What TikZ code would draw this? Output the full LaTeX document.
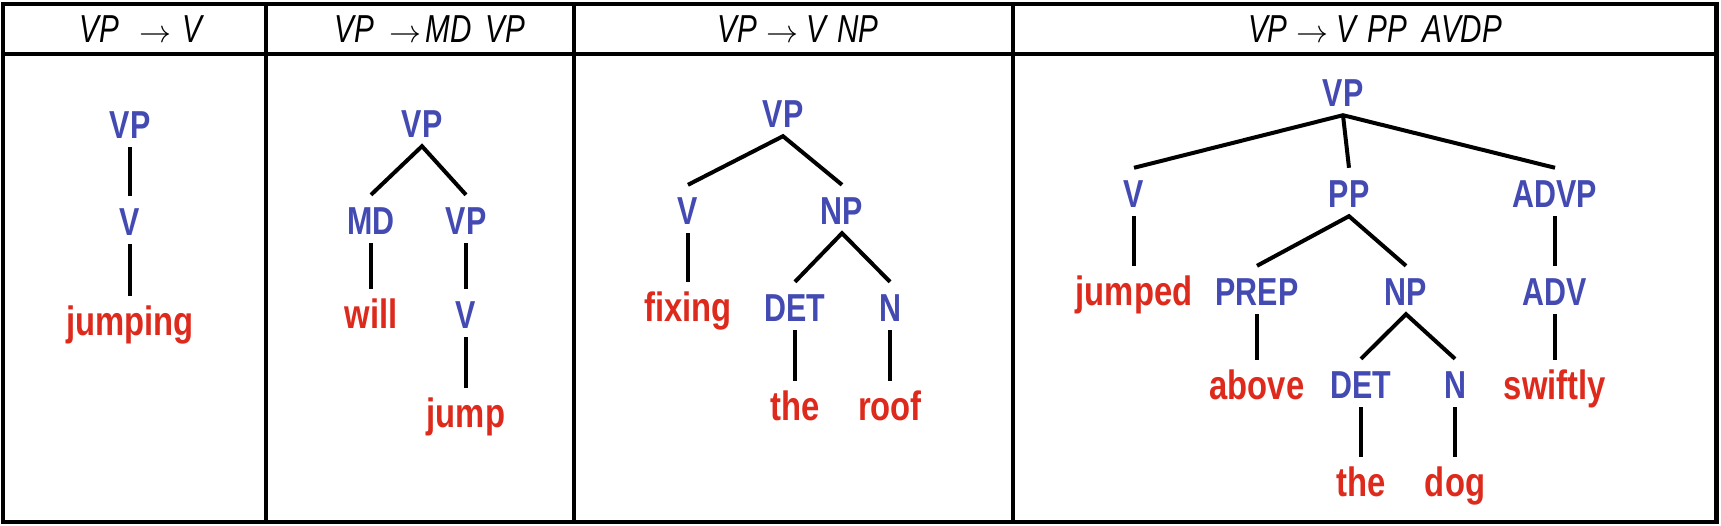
\documentclass[tikz,border=0pt]{standalone}
\usepackage{fontspec}
\setmainfont{Liberation Sans}
\newfontfamily\capsf[FakeStretch=0.78]{Liberation Sans}
\newfontfamily\wordf[FakeStretch=0.80]{Liberation Sans}
\newfontfamily\hdrf[FakeStretch=0.76]{Liberation Sans}
\definecolor{tblue}{RGB}{67,74,178}
\definecolor{tred}{RGB}{221,42,28}
\newcommand\harr{\scalebox{3.2}{\fontsize{10}{12}\selectfont$\rightarrow$}}
\tikzset{
  lab/.style={anchor=base, inner sep=0pt, text height=39pt, text depth=9pt},
  cat/.style={lab, text=tblue, font=\capsf\bfseries\fontsize{39}{40}\selectfont},
  word/.style={lab, text=tred, font=\wordf\bfseries\fontsize{41}{42}\selectfont},
  hdr/.style={anchor=base, inner sep=0pt, font=\hdrf\itshape\fontsize{39}{40}\selectfont},
  edge/.style={line width=4pt, black, line join=miter},
  frameline/.style={line width=4.2pt, black},
}
\begin{document}
\begin{tikzpicture}[x=1pt, y=-1pt]
\useasboundingbox (0,0) rectangle (1721,525);
% table frame
\draw[frameline] (3,4) rectangle (1716.5,522);
\draw[frameline] (3,54) -- (1716.5,54);
\draw[frameline] (266,4) -- (266,522);
\draw[frameline] (574,4) -- (574,522);
\draw[frameline] (1013,4) -- (1013,522);
% headers
\node[hdr] (h1) at (141,42) {VP\hspace{21pt}\harr\hspace{11pt}V};
\node[hdr] (h2) at (430,42) {VP\hspace{15pt}\harr\hspace{4pt}MD\hspace{14pt}VP};
\node[hdr] (h3) at (798,42) {VP\hspace{9pt}\harr\hspace{8pt}V\hspace{11pt}NP};
\node[hdr] (h4) at (1375,42) {VP\hspace{9pt}\harr\hspace{8pt}V\hspace{11pt}PP\hspace{16pt}AVDP};
% column 1
\node[cat] (a1) at (130,138) {VP};
\node[cat] (a2) at (130,235) {V};
\node[word] (a3) at (130,335) {jumping};
\draw[edge] (a1.south) -- (a2.north);
\draw[edge] (a2.south) -- (a3.north);
% column 2
\node[cat] (b1) at (422,137) {VP};
\node[cat] (b2) at (371,234) {MD};
\node[cat] (b3) at (466,234) {VP};
\node[word] (b4) at (371,328) {will};
\node[cat] (b5) at (466,328) {V};
\node[word] (b6) at (466,427) {jump};
\draw[edge] (b2.north) -- (b1.south) -- (b3.north);
\draw[edge] (b2.south) -- (b4.north);
\draw[edge] (b3.south) -- (b5.north);
\draw[edge] (b5.south) -- (b6.north);
% column 3
\node[cat] (c1) at (783,127) {VP};
\node[cat] (c2) at (688,224) {V};
\node[cat] (c3) at (842,224) {NP};
\node[word] (c4) at (688,321) {fixing};
\node[cat] (c5) at (795,321) {DET};
\node[cat] (c6) at (890,321) {N};
\node[word] (c7) at (795,420) {the};
\node[word] (c8) at (890,420) {roof};
\draw[edge] (c2.north) -- (c1.south) -- (c3.north);
\draw[edge] (c2.south) -- (c4.north);
\draw[edge] (c5.north) -- (c3.south) -- (c6.north);
\draw[edge] (c5.south) -- (c7.north);
\draw[edge] (c6.south) -- (c8.north);
% column 4
\node[cat] (d1) at (1343,106) {VP};
\node[cat] (d2) at (1134,207) {V};
\node[cat] (d3) at (1349,207) {PP};
\node[cat] (d4) at (1555,207) {ADVP};
\node[word] (d5) at (1134,305) {jumped};
\node[cat] (d6) at (1257,305) {PREP};
\node[cat] (d7) at (1406,305) {NP};
\node[cat] (d8) at (1555,305) {ADV};
\node[word] (d9) at (1257,399) {above};
\node[cat] (d10) at (1361,398) {DET};
\node[cat] (d11) at (1455,398) {N};
\node[word] (d12) at (1555,399) {swiftly};
\node[word] (d13) at (1361,496) {the};
\node[word] (d14) at (1455,496) {dog};
\draw[edge] (d2.north) -- (d1.south) -- (d4.north);
\draw[edge] (d1.south) -- (d3.north);
\draw[edge] (d2.south) -- (d5.north);
\draw[edge] (d6.north) -- (d3.south) -- (d7.north);
\draw[edge] (d4.south) -- (d8.north);
\draw[edge] (d6.south) -- (d9.north);
\draw[edge] (d10.north) -- (d7.south) -- (d11.north);
\draw[edge] (d8.south) -- (d12.north);
\draw[edge] (d10.south) -- (d13.north);
\draw[edge] (d11.south) -- (d14.north);
\end{tikzpicture}
\end{document}
